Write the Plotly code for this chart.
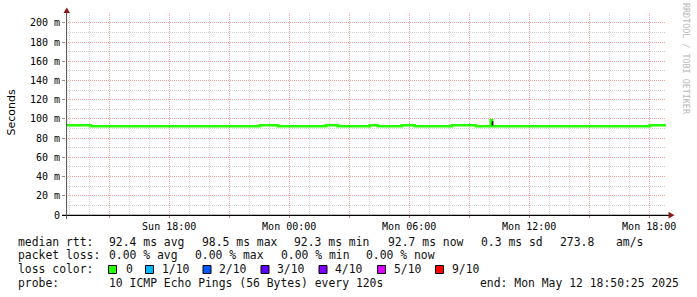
import plotly.graph_objects as go

# ---------------- data ----------------
start_time = "2025-05-11 12:50:25"
end_time = "2025-05-12 18:50:25"

median_times = ["2025-05-11 12:50:25", "2025-05-11 14:05", "2025-05-11 22:32", "2025-05-11 23:26",
                "2025-05-12 01:50", "2025-05-12 02:26", "2025-05-12 04:02", "2025-05-12 04:26",
                "2025-05-12 05:38", "2025-05-12 06:17", "2025-05-12 08:08", "2025-05-12 09:20",
                "2025-05-12 10:05", "2025-05-12 10:09", "2025-05-12 18:02", "2025-05-12 18:50:25"]
median_rtt_ms = [93.4, 92.4, 93.4, 92.4, 93.4, 92.4, 93.4, 92.4,
                 93.4, 92.4, 93.4, 92.4, 98.5, 92.4, 93.4, 93.4]

smoke_times = ["2025-05-12 10:10", "2025-05-12 10:10"]
smoke_ms = [93.0, 97.6]

y_tick_vals_ms = [0, 20, 40, 60, 80, 100, 120, 140, 160, 180, 200]
y_tick_text = ["0", "20 m", "40 m", "60 m", "80 m", "100 m", "120 m", "140 m", "160 m", "180 m", "200 m"]

x_tick_vals = ["2025-05-11 15:00", "2025-05-11 18:00", "2025-05-11 21:00", "2025-05-12 00:00",
               "2025-05-12 03:00", "2025-05-12 06:00", "2025-05-12 09:00", "2025-05-12 12:00",
               "2025-05-12 15:00", "2025-05-12 18:00"]
x_tick_text = ["", "Sun 18:00", "", "Mon 00:00", "", "Mon 06:00", "", "Mon 12:00", "", "Mon 18:00"]

rtt_parts = ["median rtt:", "92.4 ms avg", "98.5 ms max", "92.3 ms min", "92.7 ms now",
             "0.3 ms sd", "273.8", "am/s"]
loss_parts = ["packet loss:", "0.00 % avg", "0.00 % max", "0.00 % min", "0.00 % now"]
loss_labels = ["0", "1/10", "2/10", "3/10", "4/10", "5/10", "9/10"]
loss_colors = ["#26ff00", "#00b8ff", "#0059ff", "#5e00ff", "#7e00ff", "#dd00ff", "#ff0000"]
probe_parts = ["probe:", "10 ICMP Echo Pings (56 Bytes) every 120s", "end: Mon May 12 18:50:25 2025"]

# ---------------- layout geometry ----------------
W, H = 697, 297
L, R, T, B = 66, 666, 13, 215
def px(x):
    return (x - L) / (R - L)
def py(y):
    return (B - y) / (B - T)

def nb(s):
    return s.replace(" ", "\u00a0")

mono = "DejaVu Sans Mono"
TXT = dict(family=mono, size=11.4, color="#111")

fig = go.Figure()
fig.add_trace(go.Scatter(
    x=median_times, y=[v / 1000 for v in median_rtt_ms], mode="lines",
    line=dict(color="#26ff00", width=2.6, shape="hv"), hoverinfo="skip", showlegend=False))
fig.add_trace(go.Scatter(
    x=smoke_times, y=[v / 1000 for v in smoke_ms], mode="lines",
    line=dict(color="#000000", width=1.5), hoverinfo="skip", showlegend=False))

shapes = []
shapes.append(dict(type="line", xref="paper", yref="paper", x0=px(62), x1=px(669), y0=py(215.3), y1=py(215.3),
                   line=dict(color="#000000", width=1.3)))
shapes.append(dict(type="line", xref="paper", yref="paper", x0=px(66.6), x1=px(66.6), y0=py(219), y1=py(11),
                   line=dict(color="#505050", width=1)))
shapes.append(dict(type="path", xref="paper", yref="paper",
                   path=f"M {px(63.5)} {py(13)} L {px(70)} {py(13)} L {px(66.7)} {py(7.5)} Z",
                   fillcolor="#8b1a1a", line=dict(width=0)))
shapes.append(dict(type="path", xref="paper", yref="paper",
                   path=f"M {px(668.5)} {py(211.8)} L {px(668.5)} {py(218.5)} L {px(674.5)} {py(215.2)} Z",
                   fillcolor="#8b1a1a", line=dict(width=0)))

annotations = []
def txt(s, x, y, font=TXT, **kw):
    annotations.append(dict(text=nb(s), xref="paper", yref="paper", x=px(x), y=py(y),
                            xanchor="left", yanchor="middle", showarrow=False, font=font, **kw))

annotations.append(dict(text="Seconds", textangle=-90, xref="paper", yref="paper", x=px(10.5), y=py(113),
                        xanchor="center", yanchor="middle", showarrow=False,
                        font=dict(family="DejaVu Sans", size=11, color="#000")))
annotations.append(dict(text=nb("RRDTOOL / TOBI OETIKER"), textangle=90, xref="paper", yref="paper",
                        x=px(686), y=py(59), xanchor="center", yanchor="middle", showarrow=False,
                        font=dict(family=mono, size=8.4, color="#b8b8b8")))

row_y = [241.7, 255.2, 269.2, 283.3]
rtt_x = [15.5, 107, 200, 292, 385.5, 478.5, 558, 614]
for s, x in zip(rtt_parts, rtt_x):
    txt(s, x, row_y[0])
loss_x = [15.5, 107, 193.3, 279.3, 364]
for s, x in zip(loss_parts, loss_x):
    txt(s, x, row_y[1])
txt("loss color:", 15.5, row_y[2])
sq_x = [108.5, 145.5, 203, 261, 319, 377.5, 435.5]
lab_x = [123.5, 159.5, 217, 275, 333, 391.5, 449.5]
for lab, col, sx, lx in zip(loss_labels, loss_colors, sq_x, lab_x):
    shapes.append(dict(type="rect", xref="paper", yref="paper", x0=px(sx), x1=px(sx + 8),
                       y0=py(265.5), y1=py(273.5), fillcolor=col, line=dict(color="#000", width=1)))
    txt(lab, lx, row_y[2])
probe_x = [15.5, 107, 478]
for s, x in zip(probe_parts, probe_x):
    txt(s, x, row_y[3])

fig.update_layout(
    width=W, height=H,
    margin=dict(l=L, r=W - R, t=T, b=H - B, pad=0),
    paper_bgcolor="white", plot_bgcolor="white",
    showlegend=False,
    shapes=shapes, annotations=annotations,
    xaxis=dict(
        type="date", range=[start_time, end_time],
        tickmode="array", tickvals=x_tick_vals, ticktext=x_tick_text,
        showgrid=True, gridcolor="#f2a0a0", griddash="1px,1px", gridwidth=1,
        minor=dict(dtick=3600000, tick0="2025-05-11 00:00", showgrid=True, gridcolor="#d0d0d0",
                   griddash="1px,1px", gridwidth=1, ticks=""),
        ticks="outside", ticklen=2, tickcolor="#d08080",
        tickfont=dict(family=mono, size=10, color="#000"),
        showline=False, zeroline=False, fixedrange=True,
    ),
    yaxis=dict(
        range=[0, 0.2102],
        tickmode="array", tickvals=[v / 1000 for v in y_tick_vals_ms], ticktext=y_tick_text,
        showgrid=True, gridcolor="#f2a0a0", griddash="1px,1px", gridwidth=1,
        minor=dict(dtick=0.01, tick0=0, showgrid=True, gridcolor="#d0d0d0",
                   griddash="1px,1px", gridwidth=1, ticks=""),
        ticks="outside", ticklen=3, tickcolor="#909090",
        tickfont=dict(family=mono, size=10, color="#000"),
        showline=False, zeroline=False, fixedrange=True,
    ),
)

fig.write_html("out.html", config={"displayModeBar": False})
